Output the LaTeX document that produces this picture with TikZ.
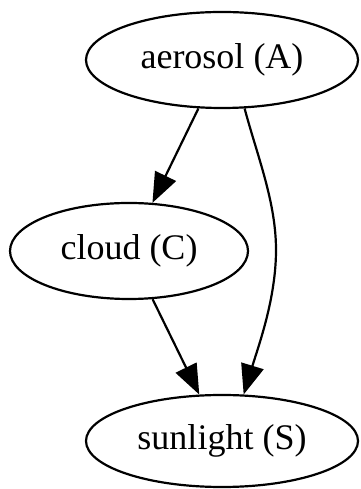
\documentclass[tikz,border=0pt]{standalone}
\usepackage{fontspec}
\setmainfont{Liberation Serif}
\usetikzlibrary{positioning,shapes.geometric,arrows.meta}

\begin{document}
\begin{tikzpicture}[
      x=1pt,y=1pt,
      every node/.style={draw,ellipse,line width=2.2pt,inner sep=0pt,
        font=\fontsize{36}{40}\selectfont},
      every path/.style={line width=2.2pt,>={Triangle[length=30pt,width=23pt]}},
      ]
      \useasboundingbox (0,0) rectangle (360,489);
      \node[minimum width=272pt,minimum height=96pt] (causalA) at (222,429) {aerosol (A)};
      \node[minimum width=238pt,minimum height=96pt] (causalC) at (129,238) {cloud (C)};
      \node[minimum width=272pt,minimum height=92pt] (causalS) at (222,48)  {sunlight (S)};
      \coordinate (causalAS) at (276,239);
      \draw[->] (causalA) -- (causalC);
      \draw[->] (causalC) -- (causalS);
      \draw[->] (causalA.-65) .. controls +(-75:50) and +(0,48) .. (causalAS)
        .. controls +(0,-48) and +(73:52) .. (causalS.65);
    \end{tikzpicture}
\end{document}
